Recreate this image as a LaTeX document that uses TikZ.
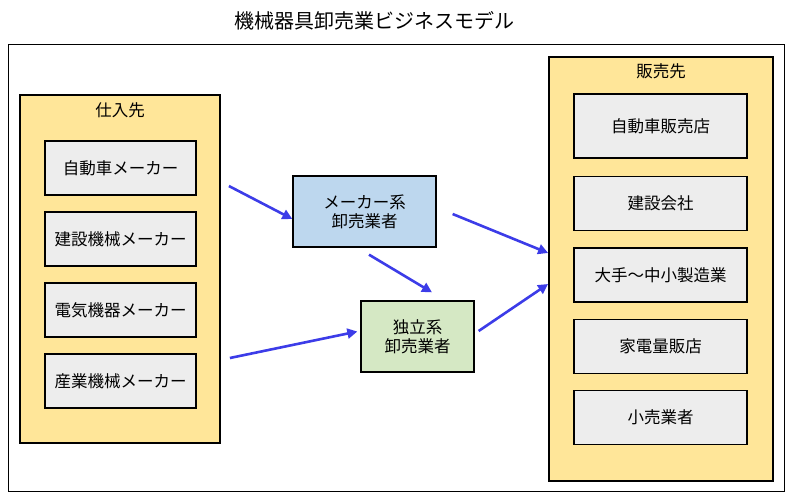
\documentclass[tikz,border=0pt]{standalone}
\usepackage{fontspec}
\setmainfont{Noto Sans CJK JP}
\usetikzlibrary{arrows.meta}
\definecolor{ylw}{HTML}{FFE699}
\definecolor{gry}{HTML}{EDEDED}
\definecolor{blu}{HTML}{BDD7EE}
\definecolor{grn}{HTML}{D5E8C4}
\definecolor{arr}{HTML}{3C3CE8}
\begin{document}
\begin{tikzpicture}[x=1pt,y=-1pt,
  grp/.style={draw=black, line width=1.8pt, fill=ylw, inner sep=0pt},
  item/.style={draw=black, line width=1.3pt, fill=gry, inner sep=0pt, align=center, font=\fontsize{16.5}{19}\selectfont},
  midbox/.style={draw=black, line width=1.3pt, inner sep=0pt, align=center, font=\fontsize{16.5}{19}\selectfont},
  grplabel/.style={inner sep=0pt, font=\fontsize{16.5}{19}\selectfont},
  flow/.style={draw=arr, line width=2.6pt, -{Triangle[length=10pt,width=10pt]}}]
\useasboundingbox (0,0) rectangle (793,499);
\node[inner sep=0pt, font=\fontsize{20}{24}\selectfont] (title) at (374.5,21) {機械器具卸売業ビジネスモデル};
\node[draw=black, line width=1pt, minimum width=776pt, minimum height=447pt, inner sep=0pt] (frame) at (396,267.5) {};
% left group
\node[grp, minimum width=200pt, minimum height=348pt] (lg) at (120,269) {};
\node[grplabel] (lgl) at (120,110) {仕入先};
\node[item, minimum width=151pt, minimum height=54pt] (s1) at (120.5,168) {自動車メーカー};
\node[item, minimum width=151pt, minimum height=54pt] (s2) at (120.5,239) {建設機械メーカー};
\node[item, minimum width=151pt, minimum height=54pt] (s3) at (120.5,310) {電気機器メーカー};
\node[item, minimum width=151pt, minimum height=54pt] (s4) at (120.5,381) {産業機械メーカー};
% right group
\node[grp, minimum width=224pt, minimum height=424pt] (rg) at (661,269) {};
\node[grplabel] (rgl) at (661,71) {販売先};
\node[item, minimum width=173pt, minimum height=64pt] (c1) at (660.5,126) {自動車販売店};
\node[item, minimum width=173pt, minimum height=54pt] (c2) at (660.5,203.5) {建設会社};
\node[item, minimum width=173pt, minimum height=54pt] (c3) at (660.5,275) {大手〜中小製造業};
\node[item, minimum width=173pt, minimum height=54pt] (c4) at (660.5,346.5) {家電量販店};
\node[item, minimum width=173pt, minimum height=54pt] (c5) at (660.5,417.5) {小売業者};
% middle
\node[midbox, fill=blu, minimum width=143pt, minimum height=71pt] (mk) at (364.5,211.5) {メーカー系\\卸売業者};
\node[midbox, fill=grn, minimum width=113pt, minimum height=71pt] (dk) at (417.5,336.5) {独立系\\卸売業者};
% arrows
\draw[flow] ([xshift=8pt,yshift=83pt]lg.east) -- ([yshift=-7.5pt]mk.west);
\draw[flow] ([xshift=9pt,yshift=-89pt]lg.east) -- ([xshift=-3pt,yshift=5pt]dk.west);
\draw[flow] ([xshift=4.5pt,yshift=-7pt]mk.south) -- ([xshift=14.5pt,yshift=8pt]dk.north);
\draw[flow] ([xshift=16pt,yshift=-2.5pt]mk.east) -- ([yshift=16pt]rg.west);
\draw[flow] ([xshift=4pt,yshift=5.5pt]dk.east) -- ([yshift=-15pt]rg.west);
\end{tikzpicture}
\end{document}
